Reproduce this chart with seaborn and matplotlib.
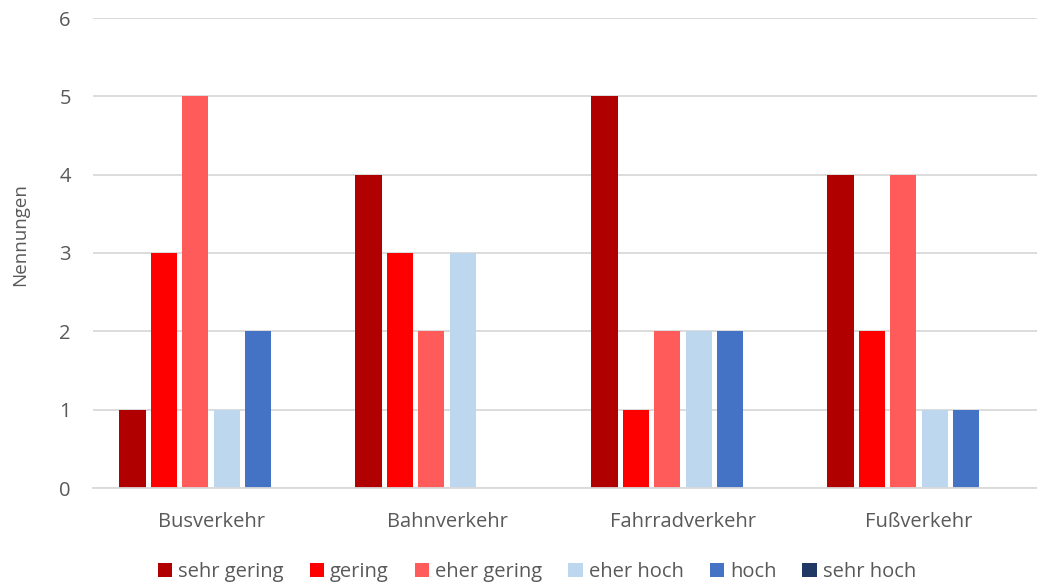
"""Nennungen je Verkehrsart - grouped bar chart"""

import matplotlib

matplotlib.use("Agg")
import matplotlib.pyplot as plt
import pandas as pd
import seaborn as sns

categories = ["Busverkehr", "Bahnverkehr", "Fahrradverkehr", "Fußverkehr"]
levels = ["sehr gering", "gering", "eher gering", "eher hoch", "hoch", "sehr hoch"]
sehr_gering = [1, 4, 5, 4]
gering = [3, 3, 1, 2]
eher_gering = [5, 2, 2, 4]
eher_hoch = [1, 3, 2, 1]
hoch = [2, 0, 2, 1]
sehr_hoch = [0, 0, 0, 0]
level_colors = ["#B00000", "#FF0000", "#FF5B5B", "#BDD7EE", "#4472C4", "#203864"]

series = [sehr_gering, gering, eher_gering, eher_hoch, hoch, sehr_hoch]
df = pd.DataFrame(
    [
        {"Kategorie": cat, "Stufe": lvl, "Nennungen": vals[i]}
        for lvl, vals in zip(levels, series)
        for i, cat in enumerate(categories)
    ]
)

sns.set_theme(style="white")
plt.rcParams["font.family"] = ["Open Sans", "DejaVu Sans"]
text_color = "#595959"

fig = plt.figure(figsize=(10.37, 5.85), dpi=100)
ax = fig.add_axes([93 / 1037, 1 - 488 / 585, 1 - 93 / 1037, (488 - 18) / 585])

sns.barplot(
    data=df,
    x="Kategorie",
    y="Nennungen",
    hue="Stufe",
    order=categories,
    hue_order=levels,
    palette=level_colors,
    width=0.8,
    gap=0.16,
    saturation=1,
    edgecolor="none",
    ax=ax,
)

ax.set_xlim(-0.5, 3.5)
ax.set_ylim(0, 6)
ax.set_yticks(range(7))
ax.yaxis.grid(True, color="#D9D9D9", linewidth=1.3)
ax.set_axisbelow(True)
for side in ["left", "right", "top"]:
    ax.spines[side].set_visible(False)
ax.spines["bottom"].set_color("#D9D9D9")
ax.spines["bottom"].set_linewidth(1.3)
ax.tick_params(axis="both", length=0, labelsize=14.5, labelcolor=text_color)
ax.tick_params(axis="x", pad=17)
ax.tick_params(axis="y", pad=16)
ax.set_xlabel("")
ax.set_ylabel("Nennungen", fontsize=13.5, color=text_color)
ax.yaxis.set_label_coords(-0.068, 0.54)

ax.legend(
    loc="center",
    ncol=6,
    frameon=False,
    labelcolor=text_color,
    handlelength=0.7,
    handleheight=0.7,
    handletextpad=0.3,
    columnspacing=1.3,
    prop={"family": ["Open Sans"], "size": 14.5},
)
leg = ax.get_legend()
leg.set_bbox_to_anchor((537 / 1037, 13 / 585), transform=fig.transFigure)

fig.savefig("out.png", dpi=100)
